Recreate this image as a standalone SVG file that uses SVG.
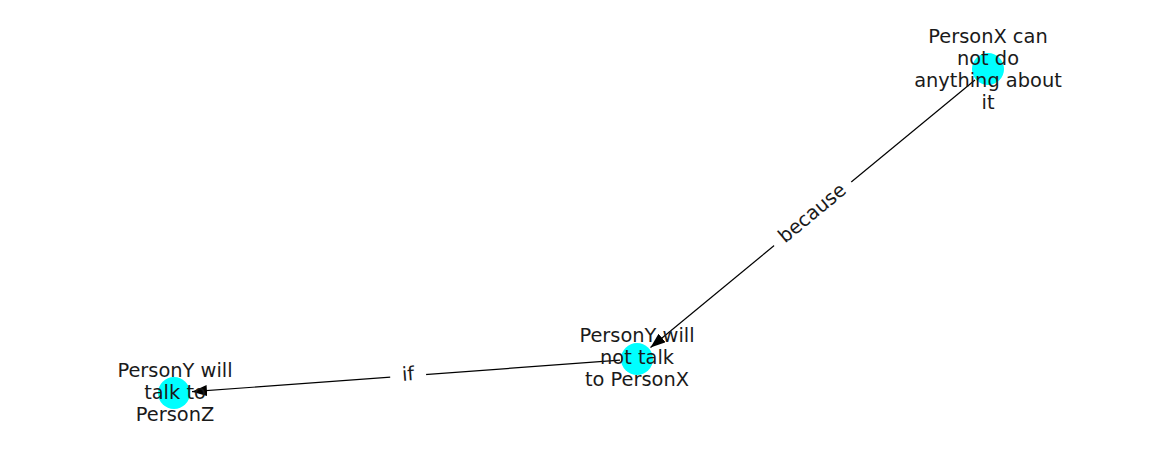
<svg xmlns="http://www.w3.org/2000/svg" width="1162" height="462" viewBox="0 0 1162 462">
<style>
.node{fill:#00ffff;stroke:none}
.lbl{font-family:"DejaVu Sans",sans-serif;font-size:19.4px;fill:#1a1a1a;text-anchor:middle}
.edge{stroke:#000;stroke-width:1.2;fill:none}
.elbl{font-family:"DejaVu Sans",sans-serif;font-size:19.4px;fill:#1a1a1a;text-anchor:middle;dominant-baseline:central}
</style>
<defs>
<marker id="arr" viewBox="0 0 15 11" refX="15" refY="5.5" markerWidth="15" markerHeight="11" markerUnits="userSpaceOnUse" orient="auto">
<path d="M0,0 L15,5.5 L0,11 Z" fill="#000"/>
</marker>
</defs>
<rect width="1162" height="462" fill="#fff"/>
<g id="node-circles">
<circle id="c1" class="node" cx="988" cy="69" r="16"/>
<circle id="c2" class="node" cx="637" cy="359" r="16"/>
<circle id="c3" class="node" cx="174" cy="393" r="16"/>
</g>
<g id="connectors">
<line class="edge" x1="975" y1="80" x2="650.5" y2="347.5" marker-end="url(#arr)"/>
<line class="edge" x1="620" y1="360.2" x2="192" y2="391.7" marker-end="url(#arr)"/>
<g transform="translate(812,213) rotate(-39.6)">
<rect x="-50" y="-12" width="100" height="24" fill="#fff"/>
<text class="elbl" x="0" y="0">because</text>
</g>
<g transform="translate(408,374) rotate(-4.2)">
<rect x="-18" y="-12" width="36" height="24" fill="#fff"/>
<text class="elbl" x="0" y="0">if</text>
</g>
</g>
<g id="n1">
<text class="lbl" x="988" y="43">PersonX can</text>
<text class="lbl" x="988" y="65">not do</text>
<text class="lbl" x="988" y="87">anything about</text>
<text class="lbl" x="988" y="109">it</text>
</g>
<g id="n2">
<text class="lbl" x="637" y="342">PersonY will</text>
<text class="lbl" x="637" y="364">not talk</text>
<text class="lbl" x="637" y="386">to PersonX</text>
</g>
<g id="n3">
<text class="lbl" x="175" y="377">PersonY will</text>
<text class="lbl" x="175" y="399">talk to</text>
<text class="lbl" x="175" y="421">PersonZ</text>
</g>
</svg>
